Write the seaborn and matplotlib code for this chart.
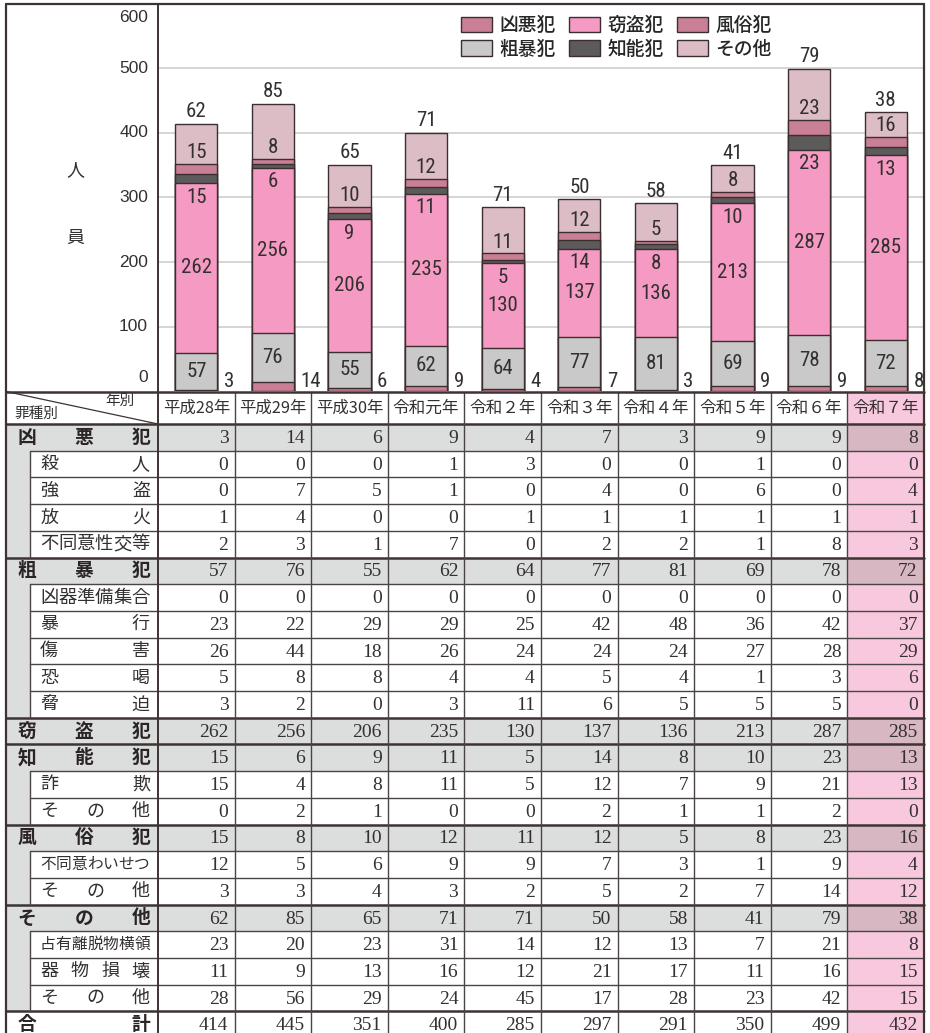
import numpy as np
import matplotlib
matplotlib.use('Agg')
import matplotlib.pyplot as plt
from matplotlib.colors import ListedColormap
from matplotlib.patches import Rectangle, Patch
import seaborn as sns

# ---------------- data ----------------
years = ['平成28年', '平成29年', '平成30年', '令和元年', '令和２年',
         '令和３年', '令和４年', '令和５年', '令和６年', '令和７年']

violent = [3, 14, 6, 9, 4, 7, 3, 9, 9, 8]                 # 凶悪犯
rough = [57, 76, 55, 62, 64, 77, 81, 69, 78, 72]          # 粗暴犯
theft = [262, 256, 206, 235, 130, 137, 136, 213, 287, 285]  # 窃盗犯
intel = [15, 6, 9, 11, 5, 14, 8, 10, 23, 13]              # 知能犯
moral = [15, 8, 10, 12, 11, 12, 5, 8, 23, 16]             # 風俗犯
other = [62, 85, 65, 71, 71, 50, 58, 41, 79, 38]          # その他
total = [414, 445, 351, 400, 285, 297, 291, 350, 499, 432]

murder = [0, 0, 0, 1, 3, 0, 0, 1, 0, 0]
robbery = [0, 7, 5, 1, 0, 4, 0, 6, 0, 4]
arson = [1, 4, 0, 0, 1, 1, 1, 1, 1, 1]
rape = [2, 3, 1, 7, 0, 2, 2, 1, 8, 3]
weapons = [0, 0, 0, 0, 0, 0, 0, 0, 0, 0]
assault = [23, 22, 29, 29, 25, 42, 48, 36, 42, 37]
injury = [26, 44, 18, 26, 24, 24, 24, 27, 28, 29]
extortion = [5, 8, 8, 4, 4, 5, 4, 1, 3, 6]
intimidation = [3, 2, 0, 3, 11, 6, 5, 5, 5, 0]
fraud = [15, 4, 8, 11, 5, 12, 7, 9, 21, 13]
intel_other = [0, 2, 1, 0, 0, 2, 1, 1, 2, 0]
indecent = [12, 5, 6, 9, 9, 7, 3, 1, 9, 4]
moral_other = [3, 3, 4, 3, 2, 5, 2, 7, 14, 12]
lost_property = [23, 20, 23, 31, 14, 12, 13, 7, 21, 8]
damage = [11, 9, 13, 16, 12, 21, 17, 11, 16, 15]
other_other = [28, 56, 29, 24, 45, 17, 28, 23, 42, 15]

layer_names = ['凶悪犯', '粗暴犯', '窃盗犯', '知能犯', '風俗犯', 'その他']
y_ticks = [0, 100, 200, 300, 400, 500, 600]

rows = [
    ('凶悪犯', 'cat', violent), ('殺人', 'sub', murder), ('強盗', 'sub', robbery),
    ('放火', 'sub', arson), ('不同意性交等', 'sub', rape),
    ('粗暴犯', 'cat', rough), ('凶器準備集合', 'sub', weapons), ('暴行', 'sub', assault),
    ('傷害', 'sub', injury), ('恐喝', 'sub', extortion), ('脅迫', 'sub', intimidation),
    ('窃盗犯', 'cat', theft),
    ('知能犯', 'cat', intel), ('詐欺', 'sub', fraud), ('その他', 'sub', intel_other),
    ('風俗犯', 'cat', moral), ('不同意わいせつ', 'sub', indecent), ('その他', 'sub', moral_other),
    ('その他', 'cat', other), ('占有離脱物横領', 'sub', lost_property),
    ('器物損壊', 'sub', damage), ('その他', 'sub', other_other),
    ('合計', 'total', total),
]

# ---------------- style ----------------
sns.set_theme(style='white')
plt.rcParams['font.family'] = ['Noto Sans CJK JP', 'DejaVu Sans']

C_VIOL = '#c97f96'
C_ROUGH = '#c9c9c9'
C_THEFT = '#f49ac3'
C_INTEL = '#5c5a5a'
C_MORAL = '#c97f96'
C_OTHER = '#dcbcc5'
EDGE = '#3b2e2e'
layer_colors = [C_VIOL, C_ROUGH, C_THEFT, C_INTEL, C_MORAL, C_OTHER]

NUM_FONT = ['Liberation Sans Narrow', 'Roboto Condensed', 'Liberation Sans', 'DejaVu Sans']
SERIF = ['Liberation Serif', 'DejaVu Serif']
TXT = '#333030'

W, H = 930, 1033
fig = plt.figure(figsize=(9.3, 10.33), dpi=100)

X0, XL, XR = 6, 158, 924
XS = 30
YT, YB = 3.5, 391.5
YH = 424
RH = 26.7
CW = (XR - XL) / 10


def fx(px):
    return px / W


# ---------------- stacked bar chart ----------------
ax = fig.add_axes([fx(XL), 1 - YB / H, fx(XR - XL), (YB - YT) / H])
layers = [violent, rough, theft, intel, moral, other]
cum = np.cumsum(np.array(layers), axis=0)
for k in range(5, -1, -1):
    sns.barplot(x=years, y=cum[k], order=years, color=layer_colors[k], width=0.55,
                saturation=1, edgecolor=EDGE, linewidth=1.0, errorbar=None, ax=ax)

ax.set_xlim(-0.5, 9.5)
ax.set_ylim(0, 600)
ax.set_xlabel('')
ax.set_ylabel('')
ax.set_xticks([])
ax.set_yticks(y_ticks[1:-1])
ax.set_yticklabels([])
ax.tick_params(axis='y', length=0)
ax.grid(axis='y', color='#d2d2d2', lw=1.3)
ax.set_axisbelow(True)
for s in ax.spines.values():
    s.set_visible(False)

ytr = ax.get_yaxis_transform()
for v in y_ticks:
    yy = v
    if v == 0:
        yy = 22
    elif v == 600:
        yy = 579
    ax.text(-0.013, yy, str(v), transform=ytr, ha='right', va='center',
            fontsize=12.5, family=['Liberation Sans', 'DejaVu Sans'], color=TXT, clip_on=False)

bar_fs = 15
for i in range(10):
    c1, c2, c3, c4, c5, c6 = cum[:, i]
    ax.text(i + 0.36, 1, str(violent[i]), ha='left', va='bottom', fontsize=bar_fs,
            family=NUM_FONT, color=TXT, clip_on=False)
    ax.text(i, (c1 + c2) / 2, str(rough[i]), ha='center', va='center', fontsize=bar_fs,
            family=NUM_FONT, color=TXT)
    ax.text(i, (c2 + c3) / 2, str(theft[i]), ha='center', va='center', fontsize=bar_fs,
            family=NUM_FONT, color=TXT)
    ax.text(i, c3 - 22, str(intel[i]), ha='center', va='center', fontsize=bar_fs,
            family=NUM_FONT, color=TXT)
    ax.text(i, c5 + 17, str(moral[i]), ha='center', va='center', fontsize=bar_fs,
            family=NUM_FONT, color=TXT)
    ax.text(i, c6 + 4, str(other[i]), ha='center', va='bottom', fontsize=bar_fs,
            family=NUM_FONT, color=TXT)

# ---------------- table (heatmap) ----------------
nrows = len(rows)
vals = np.array([r[2] for r in rows])
codes = np.zeros_like(vals)
for r, (name, kind, _) in enumerate(rows):
    codes[r, :] = 1 if kind == 'cat' else 0
    codes[r, -1] = 3 if kind == 'cat' else 2
cmap = ListedColormap(['#ffffff', '#dcdddd', '#f8c9de', '#d7b7c1'])
axt = fig.add_axes([fx(XL), 1 - (YH + RH * nrows) / H, fx(XR - XL), RH * nrows / H])
sns.heatmap(codes, cmap=cmap, vmin=-0.5, vmax=3.5, cbar=False, annot=vals, fmt='d',
            annot_kws=dict(family=SERIF, fontsize=14, color=TXT),
            xticklabels=False, yticklabels=False, linewidths=0, ax=axt)
for t in axt.texts:
    x, y = t.get_position()
    t.set_x(x + 0.42)
    t.set_ha('right')
    t.set_y(y + 0.04)

# ---------------- overlay: frame, labels, lines ----------------
ov = fig.add_axes([0, 0, 1, 1])
ov.set_xlim(0, W)
ov.set_ylim(H, 0)
ov.axis('off')

GRAY = '#dcdddd'
LINE = '#3d3333'
THIN = '#4a4444'

# header pink cell for last year
ov.add_patch(Rectangle((XL + 9 * CW, YB), CW, YH - YB, fc='#f8c9de', ec='none'))

for r, (name, kind, _) in enumerate(rows):
    y0 = YH + r * RH
    yc = y0 + RH / 2
    if kind == 'cat':
        ov.add_patch(Rectangle((X0, y0), XL - X0, RH, fc=GRAY, ec='none'))
    elif kind == 'sub':
        ov.add_patch(Rectangle((X0, y0), XS - X0, RH, fc=GRAY, ec='none'))
    n = len(name)
    if kind in ('cat', 'total'):
        xs = np.linspace(27, 141, n)
        for ch, xx in zip(name, xs):
            ov.text(xx, yc, ch, ha='center', va='center', fontsize=13.5,
                    fontweight='bold', color='#2a2424')
    else:
        w = min(18.4, 110 / n)
        xs = np.linspace(40 + w / 2, 150 - w / 2, n)
        fs = 13 if n <= 5 else w * 0.72
        for ch, xx in zip(name, xs):
            ov.text(xx, yc, ch, ha='center', va='center', fontsize=fs, color=TXT)

# header texts
for i, yl in enumerate(years):
    fs = 11.8 if yl.startswith('平成') else 12
    ov.text(XL + (i + 0.5) * CW, (YB + YH) / 2 + 1, yl, ha='center', va='center',
            fontsize=fs, color=TXT)
ov.plot([X0, XL], [YB, YH], color=LINE, lw=0.9)
ov.text(120, 401, '年別', ha='center', va='center', fontsize=10.5, color=TXT)
ov.text(36, 414, '罪種別', ha='center', va='center', fontsize=10.5, color=TXT)

# horizontal lines
ov.plot([X0, XR], [YH, YH], color=LINE, lw=1.8)
for r in range(1, nrows):
    y = YH + r * RH
    if rows[r][1] in ('cat', 'total'):
        ov.plot([X0, XR], [y, y], color=LINE, lw=1.8)
    else:
        ov.plot([XS, XR], [y, y], color=THIN, lw=1.0)

# sub-indent vertical lines
r = 0
while r < nrows:
    if rows[r][1] == 'sub':
        s = r
        while r < nrows and rows[r][1] == 'sub':
            r += 1
        ov.plot([XS, XS], [YH + s * RH, YH + r * RH], color=THIN, lw=1.0)
    else:
        r += 1

# vertical column lines
for k in range(1, 10):
    xk = XL + k * CW
    ov.plot([xk, xk], [YB, H], color=THIN, lw=1.0)
ov.plot([XL, XL], [YT, H], color=LINE, lw=1.4)

# frame & chart bottom
ov.plot([X0, X0], [YT, H], color=LINE, lw=1.6)
ov.plot([XR, XR], [YT, H], color=LINE, lw=1.6)
ov.plot([X0, XR], [YT, YT], color=LINE, lw=1.6)
ov.plot([X0, XR], [YB, YB], color=LINE, lw=1.8)

# y-axis title
ov.text(75, 170, '人', ha='center', va='center', fontsize=13, color=TXT)
ov.text(75, 238, '員', ha='center', va='center', fontsize=13, color=TXT)

# legend
handles = [Patch(facecolor=layer_colors[k], edgecolor=EDGE, linewidth=1.0, label=layer_names[k])
           for k in range(6)]
ax.legend(handles=handles, ncol=3, loc='upper left', bbox_to_anchor=(461, 16),
          bbox_transform=ov.transData, frameon=False, borderpad=0, borderaxespad=0,
          handlelength=1.65, handleheight=0.9, handletextpad=0.4, columnspacing=0.7,
          labelspacing=0.25, prop=dict(size=13.5, weight='medium'))

fig.savefig('out.png', dpi=100)
